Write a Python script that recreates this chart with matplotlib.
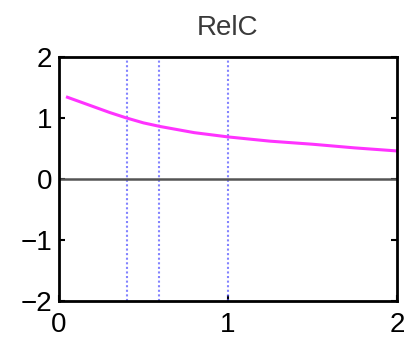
import numpy as np
import matplotlib
matplotlib.use("Agg")
import matplotlib.pyplot as plt

plt.rcParams['font.family'] = ['Liberation Sans', 'DejaVu Sans']

# curve samples
x_vals = [0.05, 0.1, 0.2, 0.3, 0.4, 0.5, 0.6, 0.8, 1.0, 1.25, 1.5, 1.75, 2.0]
relc_vals = [1.34, 1.29, 1.19, 1.09, 1.0, 0.92, 0.86, 0.76, 0.69, 0.62, 0.57, 0.51, 0.46]
# vertical markers
marker_x = [0.4, 0.59, 1.0]
x_ticks = [0, 1, 2]
y_ticks = [-2, -1, 0, 1, 2]

fig = plt.figure(figsize=(4.05, 3.4), dpi=100)
ax = fig.add_axes([59 / 405, 1 - 301 / 340, 338 / 405, 244 / 340])

for xm in marker_x:
    ax.axvline(xm, color="#5a5aff", lw=1.5, ls=(0, (1, 1.2)), alpha=0.75)
ax.axhline(0, color="#555555", lw=1.8)
ax.plot(x_vals, relc_vals, color="#ff33ff", lw=2.2)

ax.set_xlim(0, 2)
ax.set_ylim(-2, 2)
ax.set_xticks(x_ticks)
ax.set_yticks(y_ticks)
ax.set_yticklabels(["\u22122", "\u22121", "0", "1", "2"])
ax.tick_params(direction="in", length=4, width=1.5, right=True, labelsize=20, pad=5)
ax.tick_params(axis="x", pad=8)
for s in ax.spines.values():
    s.set_linewidth(2)
ax.set_title("RelC", fontsize=20, color="#3a3a3a", pad=16)

fig.savefig("out.png", dpi=100)
